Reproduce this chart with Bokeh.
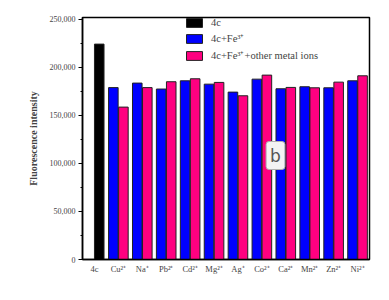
from bokeh.plotting import figure
from bokeh.models import ColumnDataSource, FactorRange, Range1d, NumeralTickFormatter, Legend, LegendItem, Label, SingleIntervalTicker
from bokeh.transform import dodge
from bokeh.embed import file_html
from bokeh.resources import INLINE

categories = ["4c", "Cu²⁺", "Na⁺", "Pb²⁺", "Cd²⁺", "Mg²⁺", "Ag⁺", "Co²⁺", "Ca²⁺", "Mn²⁺", "Zn²⁺", "Ni²⁺"]
ions = categories[1:]
base_4c = [224300]
fe_values = [179000, 183700, 177500, 186100, 182600, 174300, 187800, 177800, 179900, 178800, 186100]
other_values = [158700, 179000, 185100, 188200, 184400, 170500, 192000, 179200, 178800, 184700, 191300]
series_labels = ["4c", "4c+Fe³⁺", "4c+Fe³⁺+other metal ions"]

SERIF = "Liberation Serif"

p = figure(x_range=FactorRange(factors=categories, range_padding=0),
           y_range=Range1d(0, 252000),
           width=381, height=292, output_backend="svg", toolbar_location=None,
           min_border_left=82, min_border_right=12, min_border_top=17, min_border_bottom=33)

src_base = ColumnDataSource(dict(x=categories[:1], y=base_4c))
src_ions = ColumnDataSource(dict(x=ions, fe=fe_values, other=other_values))

r0 = p.vbar(x=dodge("x", 0.2, range=p.x_range), top="y", width=0.4, source=src_base,
            fill_color="#000000", line_color="#222222", line_width=1)
r1 = p.vbar(x=dodge("x", -0.21, range=p.x_range), top="fe", width=0.4, source=src_ions,
            fill_color="#0000FF", line_color="#222222", line_width=1)
r2 = p.vbar(x=dodge("x", 0.21, range=p.x_range), top="other", width=0.4, source=src_ions,
            fill_color="#FF0080", line_color="#222222", line_width=1)

p.xgrid.visible = False
p.ygrid.visible = False
p.outline_line_color = "#000000"
p.outline_line_width = 1.5
p.background_fill_color = "white"
p.border_fill_color = "white"

p.yaxis.ticker = SingleIntervalTicker(interval=50000, num_minor_ticks=2)
p.yaxis.formatter = NumeralTickFormatter(format="0,0")
p.yaxis.axis_label = "Fluorescence intensity"
p.yaxis.axis_label_text_font = SERIF
p.yaxis.axis_label_text_font_style = "bold"
p.yaxis.axis_label_text_font_size = "10px"
p.yaxis.axis_label_standoff = 8
p.yaxis.major_label_text_font = SERIF
p.yaxis.major_label_text_font_size = "8px"
p.yaxis.major_label_text_color = "#444444"
p.yaxis.major_tick_out = 4
p.yaxis.major_tick_in = 0
p.yaxis.minor_tick_out = 2
p.yaxis.minor_tick_in = 0
p.yaxis.axis_line_width = 1.5
p.yaxis.major_label_standoff = 3

p.xaxis.major_tick_line_color = None
p.xaxis.minor_tick_line_color = None
p.xaxis.major_tick_out = 0
p.xaxis.major_tick_in = 0
p.xaxis.axis_line_width = 1.5
p.xaxis.major_label_text_font = SERIF
p.xaxis.major_label_text_font_size = "8.5px"
p.xaxis.major_label_text_color = "#444444"
p.xaxis.major_label_standoff = 4

legend = Legend(items=[LegendItem(label=series_labels[0], renderers=[r0]),
                       LegendItem(label=series_labels[1], renderers=[r1]),
                       LegendItem(label=series_labels[2], renderers=[r2])],
                location=(102, 197), padding=0, margin=0, spacing=3,
                glyph_width=20, glyph_height=11, label_height=11,
                label_text_font=SERIF, label_text_font_size="10.5px", label_standoff=7,
                border_line_color=None, background_fill_alpha=0)
p.add_layout(legend, "center")

lab = Label(x=193, y=104, x_units="screen", y_units="screen", text="b",
            text_font="DejaVu Sans", text_font_size="17px", text_color="#555555",
            text_align="center", text_baseline="middle",
            background_fill_color="#f3f3f3", border_line_color="#b0b0b0",
            border_line_width=1, padding=4, border_radius=3)
p.add_layout(lab)

open("out.html", "w").write(file_html(p, INLINE))
